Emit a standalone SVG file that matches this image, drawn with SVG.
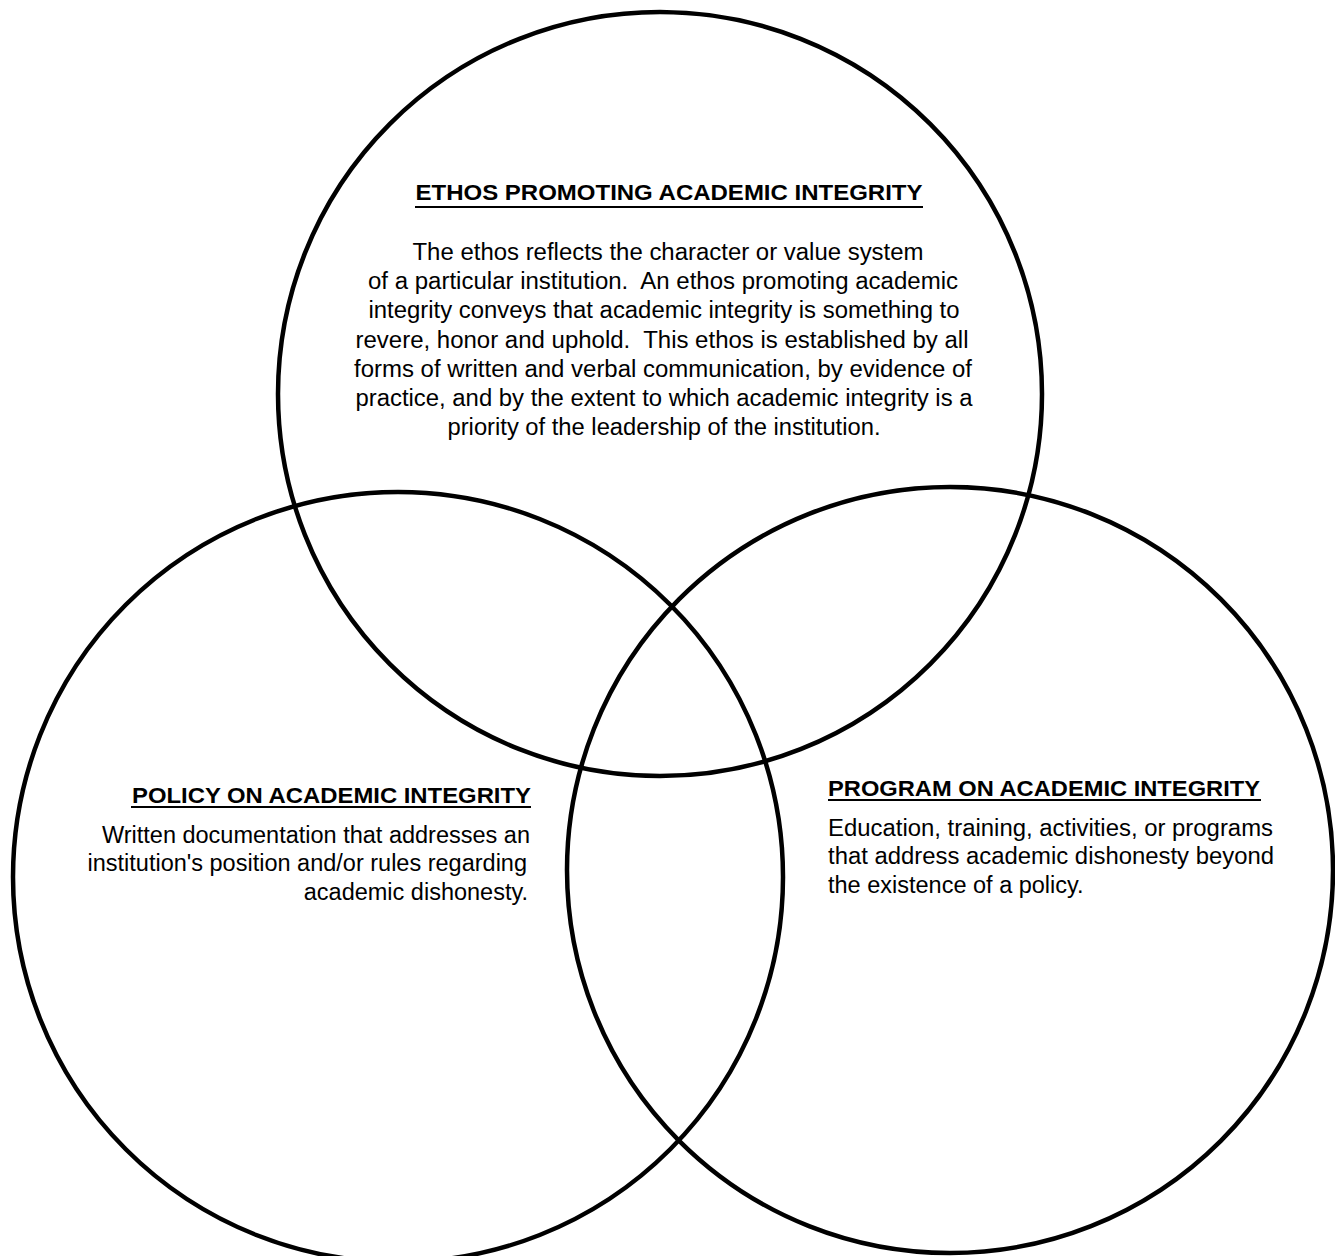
<svg xmlns="http://www.w3.org/2000/svg" width="1335" height="1256" viewBox="0 0 1335 1256">
  <style>
    .circle { fill: none; stroke: #000; stroke-width: 4.5; }
    .title { font-family: "Liberation Sans", Arial, Helvetica, sans-serif; font-weight: bold; font-size: 22px; fill: #000; }
    .body { font-family: "Liberation Sans", Arial, Helvetica, sans-serif; font-size: 23.5px; fill: #000; white-space: pre; }
    .ul { stroke: #000; stroke-width: 2; }
  </style>
  <rect width="1335" height="1256" fill="#fff"/>
  <g id="ethos">
    <circle class="circle" cx="660" cy="394" r="382"/>
    <text class="title" x="669" y="200" text-anchor="middle" textLength="507" lengthAdjust="spacingAndGlyphs">ETHOS PROMOTING ACADEMIC INTEGRITY</text>
    <line class="ul" x1="415" y1="207" x2="923" y2="207"/>
    <g class="body" text-anchor="middle">
      <text x="668" y="260" textLength="511" lengthAdjust="spacingAndGlyphs">The ethos reflects the character or value system</text>
      <text x="663" y="289" textLength="590" lengthAdjust="spacingAndGlyphs" xml:space="preserve">of a particular institution.  An ethos promoting academic</text>
      <text x="664" y="318" textLength="591" lengthAdjust="spacingAndGlyphs">integrity conveys that academic integrity is something to</text>
      <text x="662" y="348" textLength="613" lengthAdjust="spacingAndGlyphs" xml:space="preserve">revere, honor and uphold.  This ethos is established by all</text>
      <text x="663" y="377" textLength="618" lengthAdjust="spacingAndGlyphs">forms of written and verbal communication, by evidence of</text>
      <text x="664" y="406" textLength="617" lengthAdjust="spacingAndGlyphs">practice, and by the extent to which academic integrity is a</text>
      <text x="664" y="435" textLength="433" lengthAdjust="spacingAndGlyphs">priority of the leadership of the institution.</text>
    </g>
  </g>
  <g id="policy">
    <circle class="circle" cx="398" cy="877" r="385"/>
    <text class="title" x="531" y="803" text-anchor="end" textLength="399" lengthAdjust="spacingAndGlyphs">POLICY ON ACADEMIC INTEGRITY</text>
    <line class="ul" x1="131" y1="807" x2="531" y2="807"/>
    <g class="body" text-anchor="end">
      <text x="530" y="843">Written documentation that addresses an</text>
      <text x="527" y="871">institution's position and/or rules regarding</text>
      <text x="528" y="900">academic dishonesty.</text>
    </g>
  </g>
  <g id="program">
    <circle class="circle" cx="950" cy="870" r="383"/>
    <text class="title" x="828" y="796" textLength="432" lengthAdjust="spacingAndGlyphs">PROGRAM ON ACADEMIC INTEGRITY</text>
    <line class="ul" x1="828" y1="800" x2="1261" y2="800"/>
    <g class="body">
      <text x="828" y="836" textLength="445" lengthAdjust="spacingAndGlyphs">Education, training, activities, or programs</text>
      <text x="828" y="864" textLength="446" lengthAdjust="spacingAndGlyphs">that address academic dishonesty beyond</text>
      <text x="828" y="893">the existence of a policy.</text>
    </g>
  </g>
  <g id="connectors"></g>
</svg>
